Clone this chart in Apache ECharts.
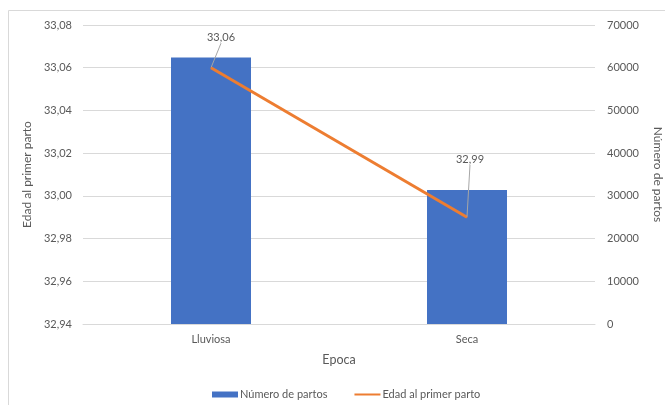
<!DOCTYPE html>
<html>
<head>
<meta charset="utf-8">
<script src="https://cdn.jsdelivr.net/npm/echarts@6/dist/echarts.min.js"></script>
<style>
  html, body { margin: 0; padding: 0; background: #fff; }
  #chart { width: 665px; height: 405px; }
</style>
</head>
<body>
<div id="chart"></div>
<script>
// Categories (época) and the two series
const epocas = ['Lluviosa', 'Seca'];
const numeroPartos = [62400, 31400];
const edadPrimerParto = [33.06, 32.99];

// Axis ranges
const edadMin = 32.94, edadMax = 33.08, edadStep = 0.02;
const partosMin = 0, partosMax = 70000, partosStep = 10000;

const textColor = '#595959';
const gridColor = '#d9d9d9';
const fontFamily = 'Lato, "Open Sans", sans-serif';

const fmt = v => v.toFixed(2).replace('.', ',');

const chart = echarts.init(document.getElementById('chart'), null, { renderer: 'canvas' });

chart.setOption({
  animation: false,
  textStyle: { fontFamily: fontFamily, color: textColor },
  graphic: [{
    type: 'rect',
    shape: { x: 8.5, y: 10.5, width: 700, height: 500 },
    style: { fill: 'none', stroke: gridColor, lineWidth: 1 },
    silent: true
  }],
  grid: { left: 83, right: 70, top: 25, bottom: 81, containLabel: false, outerBoundsMode: 'none' },
  legend: {
    left: 212,
    top: 389,
    padding: 0,
    itemWidth: 26,
    itemHeight: 6,
    itemGap: 26,
    textStyle: { fontSize: 11, color: textColor, fontFamily: fontFamily, padding: [0, 0, 0, -3] },
    data: [
      { name: 'Número de partos', icon: 'rect' },
      { name: 'Edad al primer parto', itemStyle: { opacity: 0 } }
    ]
  },
  xAxis: {
    type: 'category',
    data: epocas,
    name: 'Epoca',
    nameLocation: 'middle',
    nameGap: 29,
    nameTextStyle: { fontSize: 12.5, color: textColor },
    axisLine: { lineStyle: { color: gridColor } },
    axisTick: { show: false },
    axisLabel: { fontSize: 11, color: textColor, margin: 10 }
  },
  yAxis: [
    {
      type: 'value',
      min: edadMin, max: edadMax, interval: edadStep,
      name: 'Edad al primer parto',
      nameLocation: 'middle',
      nameGap: 41,
      nameTextStyle: { fontSize: 12, color: textColor },
      axisLine: { show: false },
      axisTick: { show: false },
      axisLabel: { fontSize: 11, color: textColor, margin: 11, formatter: fmt },
      splitLine: { lineStyle: { color: gridColor } }
    },
    {
      type: 'value',
      min: partosMin, max: partosMax, interval: partosStep,
      name: 'Número de partos',
      nameLocation: 'middle',
      nameRotate: -90,
      nameGap: 57,
      nameTextStyle: { fontSize: 12, color: textColor },
      axisLine: { show: false },
      axisTick: { show: false },
      axisLabel: { fontSize: 11, color: textColor, margin: 12, formatter: v => String(v) },
      splitLine: { show: false }
    }
  ],
  series: [
    {
      name: 'Número de partos',
      type: 'bar',
      yAxisIndex: 1,
      barWidth: 80,
      data: numeroPartos,
      itemStyle: { color: '#4472c4' }
    },
    {
      name: 'Edad al primer parto',
      type: 'line',
      yAxisIndex: 0,
      data: edadPrimerParto,
      symbol: 'circle',
      symbolSize: 1,
      showSymbol: true,
      lineStyle: { color: '#ed7d31', width: 3 },
      itemStyle: { color: '#ed7d31' },
      label: {
        show: true,
        position: 'top',
        distance: 2,
        fontSize: 11,
        color: textColor,
        formatter: p => fmt(p.value)
      },
      labelLine: { show: true, lineStyle: { color: '#a6a6a6', width: 1 } },
      labelLayout: p => (p.dataIndex === 0 ? { dx: 10, dy: -22 } : { dx: 3, dy: -50 })
    }
  ]
});
</script>
</body>
</html>
